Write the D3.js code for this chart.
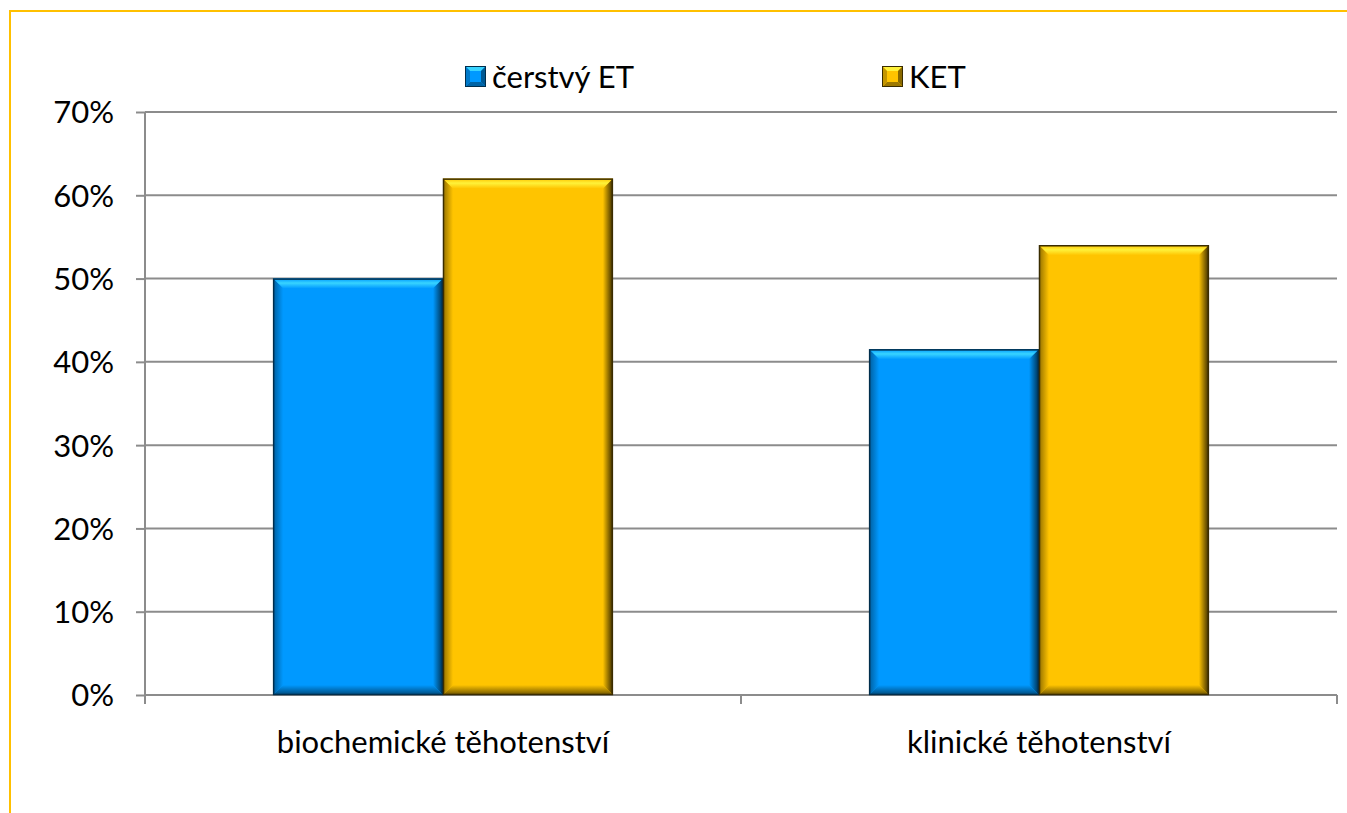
<!DOCTYPE html>
<html><head><meta charset="utf-8">
<script src="https://cdn.jsdelivr.net/npm/d3@7"></script>
<style>body{margin:0;background:#fff}svg{display:block}text{font-family:Lato,"Open Sans",sans-serif;fill:#000}</style>
</head><body>
<script>
const categories = ["biochemické těhotenství", "klinické těhotenství"];
const seriesNames = ["čerstvý ET", "KET"];
const freshET = [0.50, 0.415];
const KET = [0.62, 0.54];
const yTicks = [0, 0.1, 0.2, 0.3, 0.4, 0.5, 0.6, 0.7];
const colors = {"čerstvý ET": {base:"#0099FF", light:"#38D4FF", dark:"#002E4C"}, "KET": {base:"#FFC400", light:"#FFF23A", dark:"#3A2C00"}};

const W = 1347, H = 813, FS = 31;
const svg = d3.select("body").append("svg").attr("width", W).attr("height", H);
const defs = svg.append("defs");

// frame
svg.append("path").attr("d", `M10,${H}V11H${W}`).attr("fill","none").attr("stroke","#FFC000").attr("stroke-width",2);

const pLeft = 145, pRight = 1337, pTop = 112, pBottom = 695;
const y = d3.scaleLinear().domain([0, 0.7]).range([pBottom, pTop]);
const x0 = d3.scaleBand().domain(categories).range([pLeft, pRight]).paddingInner(0.43).paddingOuter(0.215);
const x1 = d3.scaleBand().domain(seriesNames).range([0, x0.bandwidth()]);

// gridlines
svg.append("g").selectAll("line").data(yTicks.slice(1)).join("line")
  .attr("x1", pLeft).attr("x2", pRight).attr("y1", d=>y(d)).attr("y2", d=>y(d))
  .attr("stroke","#8c8c8c").attr("stroke-width",2);

// y axis
const yAxis = d3.axisLeft(y).tickValues(yTicks).tickFormat(d3.format(".0%")).tickSize(9).tickPadding(22);
const gy = svg.append("g").attr("transform",`translate(${pLeft},0)`).call(yAxis);
gy.select(".domain").attr("stroke","#8c8c8c").attr("stroke-width",2).attr("d",`M0,${pTop}V${pBottom+8}`);
gy.selectAll(".tick line").attr("stroke","#8c8c8c").attr("stroke-width",2);
gy.selectAll(".tick text").attr("font-size",FS).attr("font-family","Lato,sans-serif").attr("fill","#000").attr("dy","0.35em");

// x axis
const xAxisScale = d3.scalePoint().domain([0,1,2]).range([pLeft, pRight]);
const gx = svg.append("g").attr("transform",`translate(0,${pBottom})`);
gx.append("line").attr("x1",pLeft).attr("x2",pRight).attr("stroke","#8c8c8c").attr("stroke-width",2);
gx.selectAll("line.t").data([0,1,2]).join("line").attr("class","t")
  .attr("x1",d=>xAxisScale(d)).attr("x2",d=>xAxisScale(d)).attr("y1",0).attr("y2",9)
  .attr("stroke","#8c8c8c").attr("stroke-width",2);
gx.selectAll("text").data(categories).join("text")
  .attr("x", d=>x0(d)+x0.bandwidth()/2).attr("y", 58).attr("text-anchor","middle")
  .attr("font-size",FS).text(d=>d);

// gradients
seriesNames.forEach((s,i)=>{
  const c = colors[s];
  const mk = (id, xa, ya, xb, yb, stops) => {
    const g = defs.append("linearGradient").attr("id",id).attr("x1",xa).attr("y1",ya).attr("x2",xb).attr("y2",yb);
    stops.forEach(st=>g.append("stop").attr("offset",st[0]).attr("stop-color",st[1]));
  };
  mk("top"+i,0,0,0,1,[[0,c.base],[0.45,c.light],[1,c.base]]);
  mk("right"+i,0,0,1,0,[[0,c.base],[1,c.dark]]);
  mk("left"+i,1,0,0,0,[[0,c.base],[1,d3.interpolateRgb(c.base,c.dark)(0.55)]]);
  mk("bot"+i,0,0,0,1,[[0,c.base],[1,d3.interpolateRgb(c.base,c.dark)(0.75)]]);
});

const bv = 10;
const data = [];
categories.forEach((cat,ci)=>{
  data.push({cat, s:seriesNames[0], si:0, v:freshET[ci]});
  data.push({cat, s:seriesNames[1], si:1, v:KET[ci]});
});
const bars = svg.append("g").selectAll("g").data(data).join("g");
bars.each(function(d){
  const g = d3.select(this);
  const xa = x0(d.cat)+x1(d.s), xb = xa + x1.bandwidth();
  const ya = y(d.v), yb = y(0);
  const c = colors[d.s];
  g.append("rect").attr("x",xa).attr("y",ya).attr("width",xb-xa).attr("height",yb-ya).attr("fill",c.base);
  g.append("path").attr("d",`M${xa},${ya}L${xb},${ya}L${xb-bv},${ya+bv}L${xa+bv},${ya+bv}Z`).attr("fill",`url(#top${d.si})`);
  g.append("path").attr("d",`M${xb},${ya}L${xb},${yb}L${xb-bv},${yb-bv}L${xb-bv},${ya+bv}Z`).attr("fill",`url(#right${d.si})`);
  g.append("path").attr("d",`M${xa},${ya}L${xa+bv},${ya+bv}L${xa+bv},${yb-bv}L${xa},${yb}Z`).attr("fill",`url(#left${d.si})`);
  g.append("path").attr("d",`M${xa},${yb}L${xa+bv},${yb-bv}L${xb-bv},${yb-bv}L${xb},${yb}Z`).attr("fill",`url(#bot${d.si})`);
  g.append("rect").attr("x",xa+0.5).attr("y",ya+0.5).attr("width",xb-xa-1).attr("height",yb-ya-1).attr("fill","none").attr("stroke",c.dark).attr("stroke-width",1.5);
});

// legend
const legX = [465, 882];
const leg = svg.append("g").selectAll("g").data(seriesNames).join("g")
  .attr("transform",(d,i)=>`translate(${legX[i]},66)`);
leg.each(function(d,i){
  const g = d3.select(this); const c = colors[d]; const s = 21, b = 5;
  g.append("rect").attr("width",s).attr("height",s).attr("fill",c.base);
  g.append("path").attr("d",`M0,0L${s},0L${s-b},${b}L${b},${b}Z`).attr("fill",c.light);
  g.append("path").attr("d",`M${s},0L${s},${s}L${s-b},${s-b}L${s-b},${b}Z`).attr("fill",d3.interpolateRgb(c.base,c.dark)(0.6));
  g.append("path").attr("d",`M0,${s}L${b},${s-b}L${s-b},${s-b}L${s},${s}Z`).attr("fill",d3.interpolateRgb(c.base,c.dark)(0.5));
  g.append("path").attr("d",`M0,0L${b},${b}L${b},${s-b}L0,${s}Z`).attr("fill",d3.interpolateRgb(c.base,c.dark)(0.3));
  g.append("rect").attr("x",0.5).attr("y",0.5).attr("width",s-1).attr("height",s-1).attr("fill","none").attr("stroke",c.dark).attr("stroke-width",1);
  g.append("text").attr("x",s+6).attr("y",s/2).attr("dy","0.36em").attr("font-size",FS).text(d);
});
</script>
</body></html>
